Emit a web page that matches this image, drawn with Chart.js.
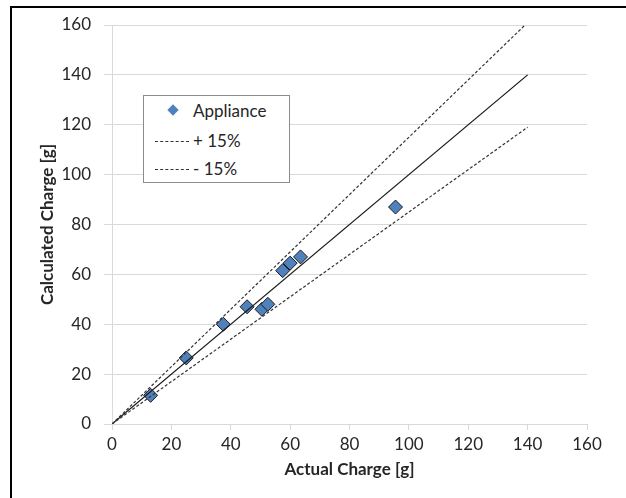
<!DOCTYPE html>
<html>
<head>
<meta charset="utf-8">
<script src="https://cdn.jsdelivr.net/npm/chart.js@4/dist/chart.umd.min.js"></script>
<style>
  html, body { margin: 0; padding: 0; background: #fff; }
  #wrap { position: relative; width: 626px; height: 498px; }
  #legend {
    position: absolute; left: 143px; top: 95px; width: 145px; height: 86px;
    border: 1px solid #8c8c8c; background: #fff;
    font-family: Lato, "Open Sans", sans-serif; font-size: 17px; color: #262626;
  }
  .row { position: absolute; left: 0; height: 20px; line-height: 20px; }
  .row span.txt { position: absolute; left: 49px; top: 0; white-space: nowrap; }
  .dash { position: absolute; left: 11px; top: 10px; width: 34px; border-top: 1px dashed #333; }
  .dia {
    position: absolute; left: 25px; top: 5px; width: 8px; height: 8px;
    background: #4f81bd; transform: rotate(45deg);
  }
</style>
</head>
<body>
<div id="wrap">
  <canvas id="chart" width="626" height="498"></canvas>
  <div id="legend"></div>
</div>
<script>
// values
const actualCharge = [13, 25, 37.5, 45.5, 50.5, 52.5, 57.5, 60, 63.5, 95.5];
const calculatedCharge = [11.5, 26.5, 40, 47, 46, 48, 61.5, 64.5, 67, 87];
const lineX = [0, 140];
const factorPlus = 1.15;
const factorMinus = 0.85;
const axisTicks = [0, 20, 40, 60, 80, 100, 120, 140, 160];
const legendLabels = ['Appliance', '+ 15%', '- 15%'];

const FONT = 'Lato, "Open Sans", sans-serif';

function makeLine(factor) {
    return lineX.map(x => ({ x: x, y: x * factor }));
}

const scatterPoints = actualCharge.map((x, i) => ({ x: x, y: calculatedCharge[i] }));

// outer frame (only top and left edges visible in the picture)
const framePlugin = {
    id: 'frame',
    afterDraw(chart) {
        const ctx = chart.ctx;
        ctx.save();
        ctx.strokeStyle = '#000';
        ctx.lineWidth = 2;
        ctx.beginPath();
        ctx.moveTo(626, 7);
        ctx.lineTo(11, 7);
        ctx.lineTo(11, 498);
        ctx.stroke();
        ctx.restore();
    }
};

new Chart(document.getElementById('chart').getContext('2d'), {
    type: 'scatter',
    data: {
        datasets: [
            {
                label: legendLabels[1],
                type: 'line',
                data: makeLine(factorPlus),
                borderColor: '#333',
                borderWidth: 1.2,
                borderDash: [3, 2],
                pointRadius: 0,
                fill: false
            },
            {
                label: legendLabels[2],
                type: 'line',
                data: makeLine(factorMinus),
                borderColor: '#333',
                borderWidth: 1.2,
                borderDash: [3, 2],
                pointRadius: 0,
                fill: false
            },
            {
                label: '1:1',
                type: 'line',
                data: makeLine(1),
                borderColor: '#1a1a1a',
                borderWidth: 1.3,
                pointRadius: 0,
                fill: false
            },
            {
                label: legendLabels[0],
                data: scatterPoints,
                pointStyle: 'rectRot',
                pointRadius: 7,
                backgroundColor: '#4f81bd',
                borderColor: '#1a1a1a',
                borderWidth: 1
            }
        ]
    },
    options: {
        responsive: false,
        animation: false,
        events: [],
        layout: { padding: { left: 11, top: 25, right: 39, bottom: 0 } },
        plugins: { legend: { display: false }, tooltip: { enabled: false } },
        scales: {
            x: {
                type: 'linear',
                min: 0, max: 160,
                afterBuildTicks: axis => { axis.ticks = axisTicks.map(v => ({ value: v })); },
                afterFit: axis => { axis.height = 74; },
                grid: { drawOnChartArea: false, drawTicks: true, tickLength: 6, color: '#d9d9d9' },
                border: { color: '#d9d9d9' },
                ticks: { font: { family: FONT, size: 17 }, color: '#262626', padding: 4, maxRotation: 0 },
                title: {
                    display: true, text: 'Actual Charge [g]',
                    font: { family: FONT, size: 17, weight: 'bold' }, color: '#262626',
                    padding: { top: 0, bottom: 18 }
                }
            },
            y: {
                type: 'linear',
                min: 0, max: 160,
                afterBuildTicks: axis => { axis.ticks = axisTicks.map(v => ({ value: v })); },
                afterFit: axis => { axis.width = 101; },
                grid: { drawOnChartArea: true, drawTicks: true, tickLength: 8, color: '#d9d9d9' },
                border: { color: '#d9d9d9' },
                ticks: { font: { family: FONT, size: 17 }, color: '#262626', padding: 13 },
                title: {
                    display: true, text: 'Calculated Charge [g]',
                    font: { family: FONT, size: 17, weight: 'bold' }, color: '#262626',
                    padding: { top: 26, bottom: 0 }
                }
            }
        }
    },
    plugins: [framePlugin]
});

// legend box inside the plot area
const legend = document.getElementById('legend');
const rowTops = [5, 35, 63];
legendLabels.forEach((label, i) => {
    const row = document.createElement('div');
    row.className = 'row';
    row.style.top = rowTops[i] + 'px';
    row.style.width = '145px';
    const mark = document.createElement('div');
    mark.className = i === 0 ? 'dia' : 'dash';
    row.appendChild(mark);
    const txt = document.createElement('span');
    txt.className = 'txt';
    txt.textContent = label;
    row.appendChild(txt);
    legend.appendChild(row);
});
</script>
</body>
</html>
